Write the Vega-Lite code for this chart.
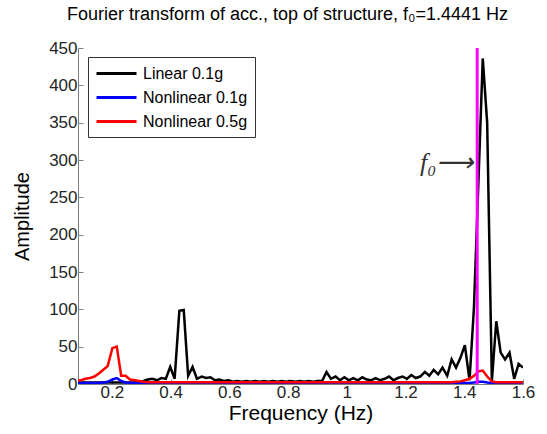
{
"$schema": "https://vega.github.io/schema/vega-lite/v6.json",
"width": 445, "height": 336,
"autosize": {"type": "none"},
"padding": {"left": 78, "top": 48, "right": 24, "bottom": 50},
"background": "white",
"config": {"view": {"stroke": null}, "font": "Liberation Sans"},
"title": {"text": "Fourier transform of acc., top of structure, f₀=1.4441 Hz", "fontSize": 18, "fontWeight": "normal", "color": "#000000", "anchor": "middle", "offset": 15, "dx": -13},
"layer": [
{
"data": {"values": [
{"f":0.080,"L":2,"N1":1.5,"N5":4.5},
{"f":0.095,"L":2,"N1":1.5,"N5":5},
{"f":0.110,"L":2,"N1":1.5,"N5":7},
{"f":0.126,"L":2,"N1":1.5,"N5":8},
{"f":0.141,"L":2,"N1":1.5,"N5":10},
{"f":0.156,"L":2,"N1":1.5,"N5":14},
{"f":0.171,"L":2,"N1":2,"N5":19},
{"f":0.186,"L":2,"N1":3,"N5":24},
{"f":0.202,"L":2,"N1":6,"N5":48},
{"f":0.217,"L":2,"N1":8,"N5":50},
{"f":0.232,"L":2,"N1":4,"N5":11},
{"f":0.247,"L":2,"N1":2,"N5":11},
{"f":0.262,"L":2,"N1":1.5,"N5":6},
{"f":0.278,"L":2,"N1":1.2,"N5":5},
{"f":0.293,"L":3,"N1":1.2,"N5":4},
{"f":0.308,"L":4,"N1":1.2,"N5":3},
{"f":0.323,"L":6,"N1":1.2,"N5":2.5},
{"f":0.338,"L":7,"N1":1.2,"N5":2.5},
{"f":0.354,"L":5,"N1":1.2,"N5":2.5},
{"f":0.369,"L":8,"N1":1.2,"N5":2.5},
{"f":0.384,"L":7,"N1":1.2,"N5":2.5},
{"f":0.399,"L":23,"N1":1.2,"N5":2.5},
{"f":0.414,"L":7,"N1":1.2,"N5":2.5},
{"f":0.430,"L":98,"N1":1.2,"N5":2.5},
{"f":0.445,"L":99,"N1":1.2,"N5":2.5},
{"f":0.460,"L":11,"N1":1.2,"N5":2.5},
{"f":0.475,"L":23,"N1":1.2,"N5":2.5},
{"f":0.490,"L":7,"N1":1.2,"N5":2.5},
{"f":0.506,"L":10,"N1":1.2,"N5":2.5},
{"f":0.521,"L":8,"N1":1.2,"N5":2.5},
{"f":0.536,"L":9,"N1":1.2,"N5":2.5},
{"f":0.551,"L":5,"N1":1.2,"N5":2.5},
{"f":0.566,"L":6,"N1":1.2,"N5":2.5},
{"f":0.582,"L":4,"N1":1.2,"N5":2.5},
{"f":0.597,"L":5,"N1":1.2,"N5":2.5},
{"f":0.612,"L":3,"N1":1.2,"N5":2.5},
{"f":0.627,"L":4,"N1":1.2,"N5":2.5},
{"f":0.642,"L":3,"N1":1.2,"N5":2.5},
{"f":0.658,"L":4,"N1":1.2,"N5":2.5},
{"f":0.673,"L":3,"N1":1.2,"N5":2.5},
{"f":0.688,"L":4,"N1":1.2,"N5":2.5},
{"f":0.703,"L":3,"N1":1.2,"N5":2.5},
{"f":0.718,"L":4,"N1":1.2,"N5":2.5},
{"f":0.734,"L":3,"N1":1.2,"N5":2.5},
{"f":0.749,"L":4,"N1":1.2,"N5":2.5},
{"f":0.764,"L":3,"N1":1.2,"N5":2.5},
{"f":0.779,"L":4,"N1":1.2,"N5":2.5},
{"f":0.794,"L":3,"N1":1.2,"N5":2.5},
{"f":0.810,"L":4,"N1":1.2,"N5":2.5},
{"f":0.825,"L":3,"N1":1.2,"N5":2.5},
{"f":0.840,"L":4,"N1":1.2,"N5":2.5},
{"f":0.855,"L":3,"N1":1.2,"N5":2.5},
{"f":0.870,"L":4,"N1":1.2,"N5":2.5},
{"f":0.886,"L":3,"N1":1.2,"N5":2.5},
{"f":0.901,"L":4,"N1":1.2,"N5":2.5},
{"f":0.916,"L":4,"N1":1.2,"N5":2.5},
{"f":0.931,"L":16,"N1":1.2,"N5":2.5},
{"f":0.946,"L":7,"N1":1.2,"N5":2.5},
{"f":0.962,"L":10,"N1":1.2,"N5":2.5},
{"f":0.977,"L":5,"N1":1.2,"N5":2.5},
{"f":0.992,"L":9,"N1":1.2,"N5":2.5},
{"f":1.007,"L":5,"N1":1.2,"N5":2.5},
{"f":1.022,"L":8,"N1":1.2,"N5":2.5},
{"f":1.038,"L":5,"N1":1.2,"N5":2.5},
{"f":1.053,"L":9,"N1":1.2,"N5":2.5},
{"f":1.068,"L":6,"N1":1.2,"N5":2.5},
{"f":1.083,"L":5,"N1":1.2,"N5":2.5},
{"f":1.098,"L":8,"N1":1.2,"N5":2.5},
{"f":1.114,"L":5,"N1":1.2,"N5":2.5},
{"f":1.129,"L":7,"N1":1.2,"N5":2.5},
{"f":1.144,"L":10,"N1":1.2,"N5":2.5},
{"f":1.159,"L":5,"N1":1.2,"N5":2.5},
{"f":1.174,"L":8,"N1":1.2,"N5":2.5},
{"f":1.190,"L":10,"N1":1.2,"N5":2.5},
{"f":1.205,"L":7,"N1":1.2,"N5":2.5},
{"f":1.220,"L":12,"N1":1.2,"N5":2.5},
{"f":1.235,"L":8,"N1":1.2,"N5":2.5},
{"f":1.250,"L":10,"N1":1.2,"N5":2.5},
{"f":1.266,"L":16,"N1":1.2,"N5":2.5},
{"f":1.281,"L":11,"N1":1.2,"N5":2.5},
{"f":1.296,"L":19,"N1":1.2,"N5":2.5},
{"f":1.311,"L":13,"N1":1.2,"N5":2.5},
{"f":1.326,"L":22,"N1":1.2,"N5":2.5},
{"f":1.342,"L":11,"N1":1.2,"N5":2.5},
{"f":1.357,"L":33,"N1":1.2,"N5":2.5},
{"f":1.372,"L":22,"N1":1.2,"N5":3},
{"f":1.387,"L":35,"N1":1.2,"N5":3.5},
{"f":1.402,"L":52,"N1":1.2,"N5":5},
{"f":1.418,"L":5,"N1":1.5,"N5":7},
{"f":1.433,"L":102,"N1":2,"N5":11},
{"f":1.448,"L":268,"N1":3,"N5":17},
{"f":1.463,"L":436,"N1":3,"N5":18},
{"f":1.478,"L":350,"N1":2,"N5":10},
{"f":1.494,"L":4,"N1":1.2,"N5":3.5},
{"f":1.509,"L":84,"N1":1.2,"N5":2.5},
{"f":1.524,"L":42,"N1":1.2,"N5":2.5},
{"f":1.539,"L":33,"N1":1.2,"N5":2.5},
{"f":1.554,"L":42,"N1":1.2,"N5":2.5},
{"f":1.570,"L":7,"N1":1.2,"N5":2.5},
{"f":1.585,"L":27,"N1":1.2,"N5":2.5},
{"f":1.600,"L":22,"N1":1.2,"N5":2.5}
]},
"transform": [{"fold": ["L", "N1", "N5"], "as": ["s", "A"]}],
"mark": {"type": "line", "strokeWidth": 2.5, "clip": true},
"encoding": {
"x": {"field": "f", "type": "quantitative", "scale": {"domain": [0.085, 1.6], "nice": false, "zero": false},
"axis": {"title": "Frequency (Hz)", "values": [0.2,0.4,0.6,0.8,1,1.2,1.4,1.6], "format": "~g", "grid": false, "labelFontSize": 17, "labelColor": "#262626", "labelOverlap": false, "titleFontSize": 21, "titleFontWeight": "normal", "titleColor": "#000000", "domainColor": "#808080", "tickColor": "#808080", "tickSize": -5, "labelPadding": 5, "titlePadding": 2, "labelFlush": false}},
"y": {"field": "A", "type": "quantitative", "scale": {"domain": [0, 450], "nice": false},
"axis": {"title": "Amplitude", "values": [0,50,100,150,200,250,300,350,400,450], "grid": false, "labelFontSize": 17, "labelColor": "#262626", "labelOverlap": false, "labelFlush": false, "titleFontSize": 20, "titleFontWeight": "normal", "titleColor": "#000000", "domainColor": "#808080", "tickColor": "#808080", "tickSize": -5, "labelPadding": 6, "titlePadding": 16}},
"color": {"field": "s", "type": "nominal",
"scale": {"domain": ["L", "N1", "N5"], "range": ["#000000", "#0000ff", "#ff0000"]},
"legend": {"title": null, "orient": "none", "legendX": 10, "legendY": 9, "strokeColor": "#333333", "fillColor": "#ffffff", "padding": 7, "symbolType": "M-2.5,0H2.5", "symbolStrokeWidth": 3, "symbolSize": 256, "symbolOffset": 12, "labelFontSize": 16, "labelColor": "#000000", "rowPadding": 6, "labelOffset": 17,
"labelExpr": "datum.value == 'L' ? 'Linear 0.1g' : datum.value == 'N1' ? 'Nonlinear 0.1g' : 'Nonlinear 0.5g'"}}
}
},
{
"data": {"values": [{"f": 1.4441}]},
"mark": {"type": "rule", "color": "#ff00ff", "strokeWidth": 3},
"encoding": {
"x": {"field": "f", "type": "quantitative", "scale": {"domain": [0.085, 1.6], "nice": false, "zero": false},
"axis": {"title": "Frequency (Hz)", "values": [0.2,0.4,0.6,0.8,1,1.2,1.4,1.6], "format": "~g", "grid": false, "labelFontSize": 17, "labelColor": "#262626", "labelOverlap": false, "titleFontSize": 21, "titleFontWeight": "normal", "titleColor": "#000000", "domainColor": "#808080", "tickColor": "#808080", "tickSize": -5, "labelPadding": 5, "titlePadding": 2, "labelFlush": false}},
"y": {"datum": 0, "type": "quantitative", "scale": {"domain": [0, 450], "nice": false},
"axis": {"title": "Amplitude", "values": [0,50,100,150,200,250,300,350,400,450], "grid": false, "labelFontSize": 17, "labelColor": "#262626", "labelOverlap": false, "labelFlush": false, "titleFontSize": 20, "titleFontWeight": "normal", "titleColor": "#000000", "domainColor": "#808080", "tickColor": "#808080", "tickSize": -5, "labelPadding": 6, "titlePadding": 16}},
"y2": {"datum": 450}}
},
{
"data": {"values": [{"f": 1.4441, "A": 296, "t": "f₀⟶"}]},
"mark": {"type": "text", "align": "right", "baseline": "middle", "dx": -4, "font": "Liberation Serif", "fontStyle": "italic", "fontSize": 26, "color": "#333333"},
"encoding": {
"x": {"field": "f", "type": "quantitative", "scale": {"domain": [0.085, 1.6], "nice": false, "zero": false},
"axis": {"title": "Frequency (Hz)", "values": [0.2,0.4,0.6,0.8,1,1.2,1.4,1.6], "format": "~g", "grid": false, "labelFontSize": 17, "labelColor": "#262626", "labelOverlap": false, "titleFontSize": 21, "titleFontWeight": "normal", "titleColor": "#000000", "domainColor": "#808080", "tickColor": "#808080", "tickSize": -5, "labelPadding": 5, "titlePadding": 2, "labelFlush": false}},
"y": {"field": "A", "type": "quantitative", "scale": {"domain": [0, 450], "nice": false},
"axis": {"title": "Amplitude", "values": [0,50,100,150,200,250,300,350,400,450], "grid": false, "labelFontSize": 17, "labelColor": "#262626", "labelOverlap": false, "labelFlush": false, "titleFontSize": 20, "titleFontWeight": "normal", "titleColor": "#000000", "domainColor": "#808080", "tickColor": "#808080", "tickSize": -5, "labelPadding": 6, "titlePadding": 16}},
"text": {"field": "t"}}
}
]
}
